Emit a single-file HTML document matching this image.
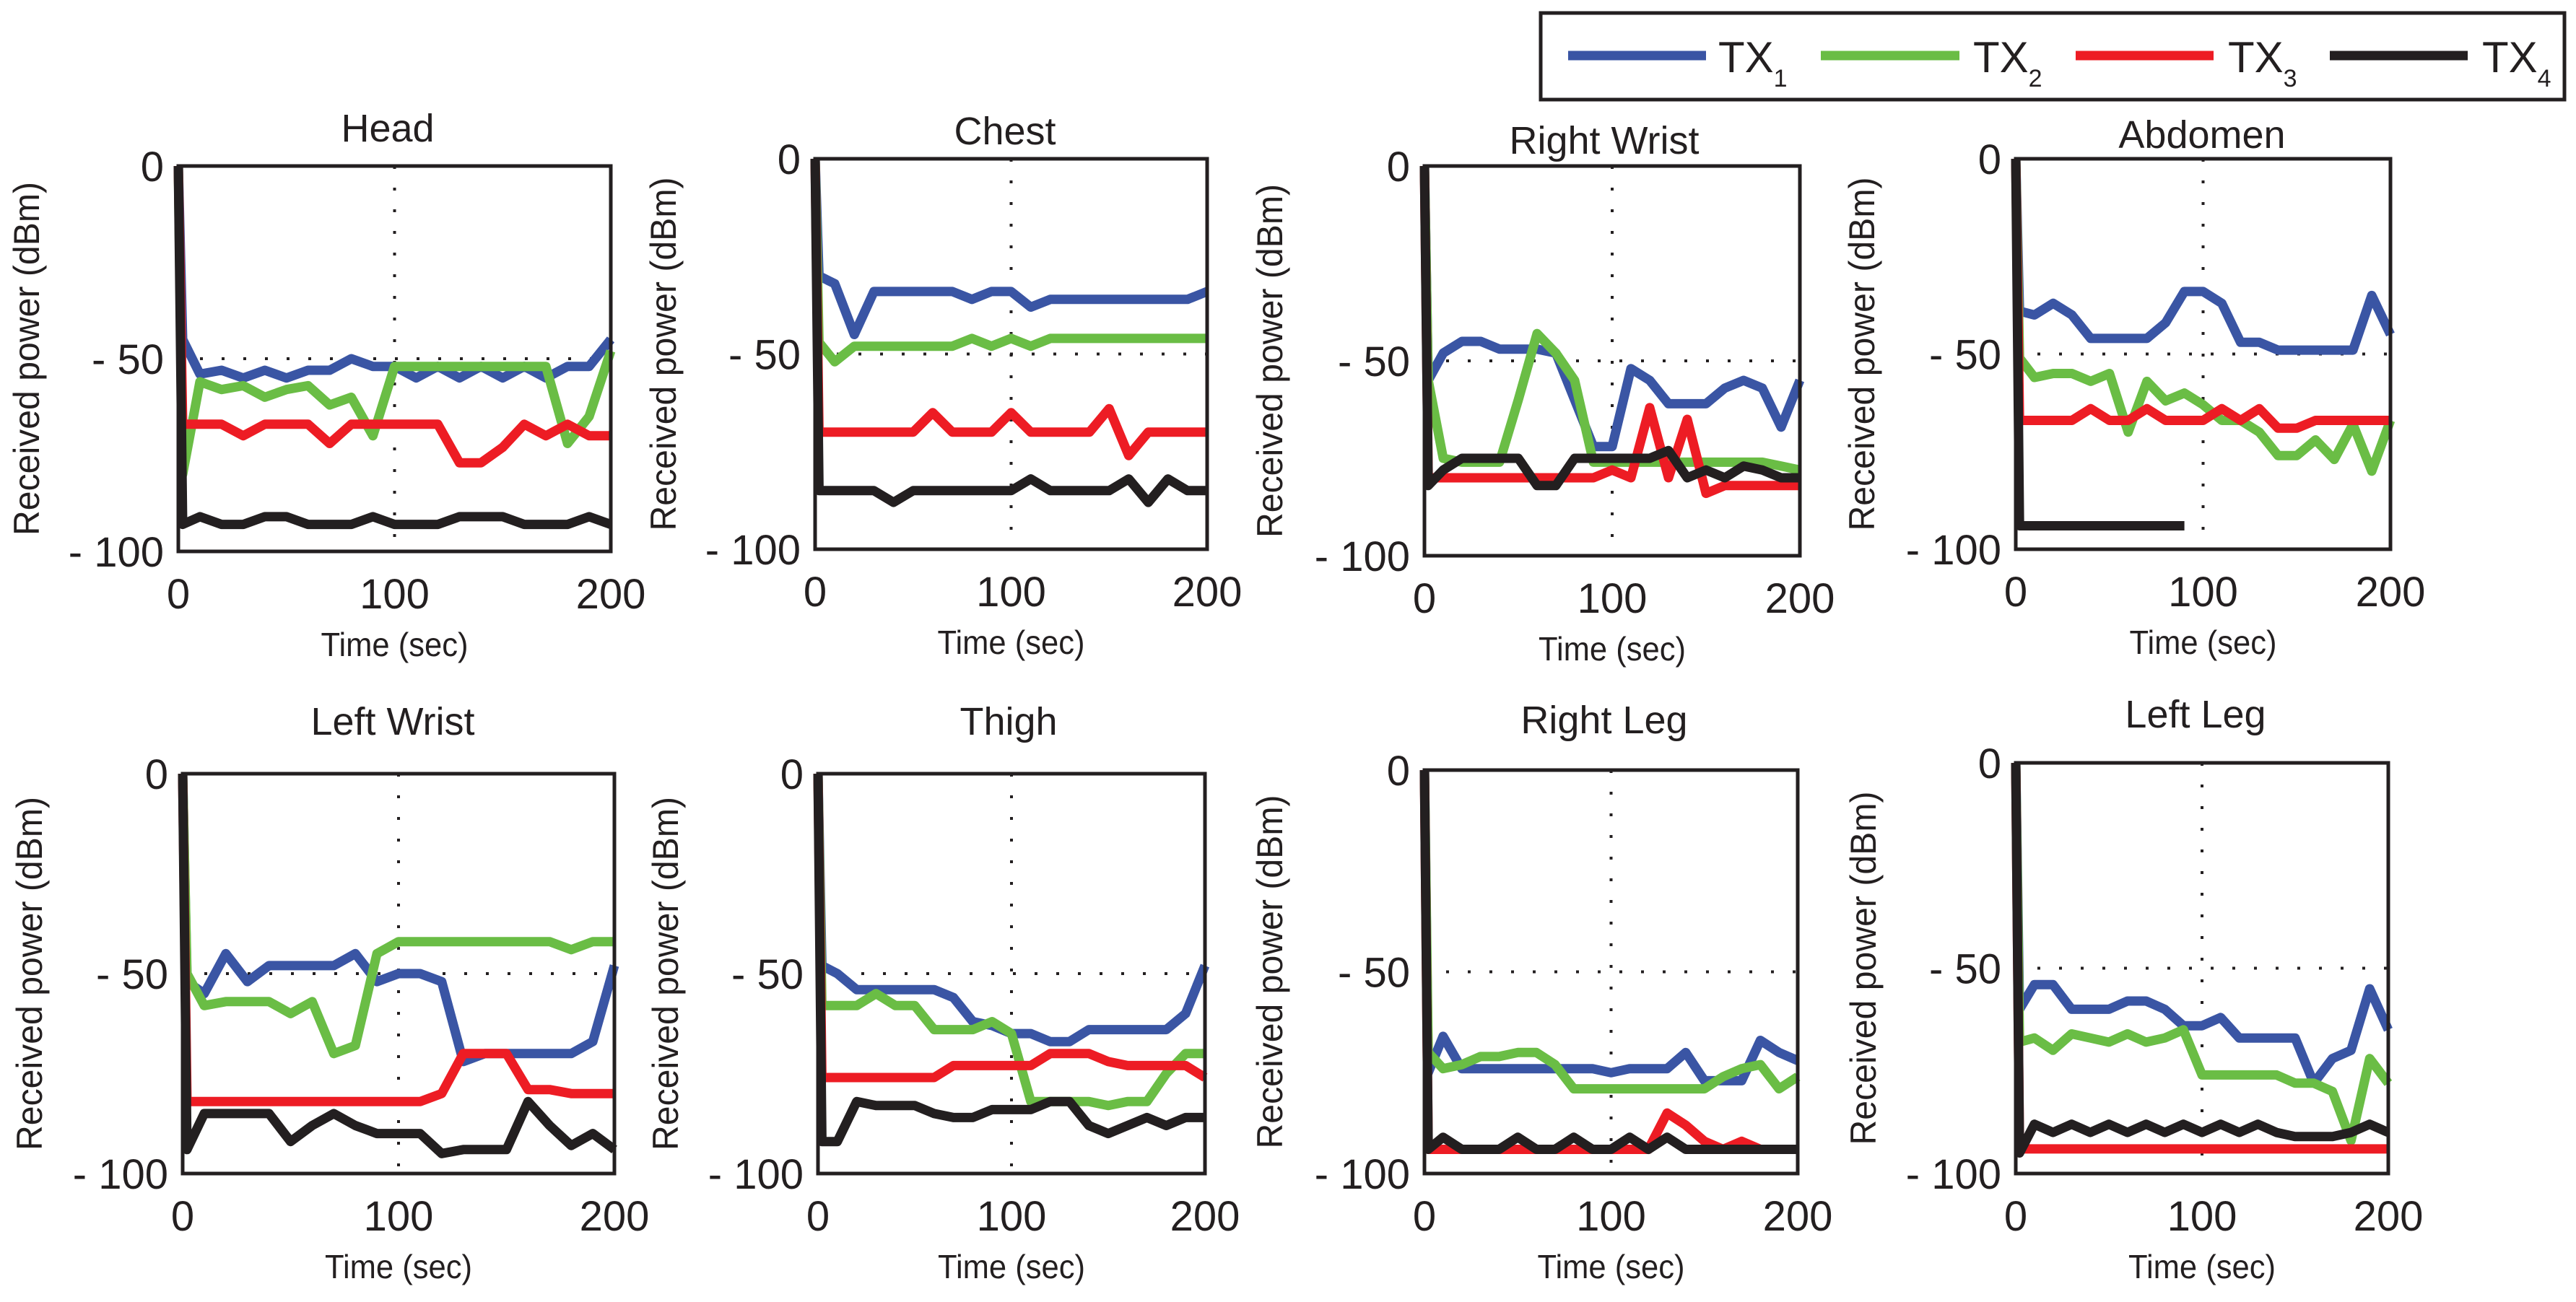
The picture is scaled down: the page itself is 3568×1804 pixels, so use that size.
<!DOCTYPE html>
<html><head><meta charset="utf-8"><style>
html,body{margin:0;padding:0;background:#fff;}
svg{display:block;font-family:"Liberation Sans",sans-serif;}
</style></head><body>
<svg id="fig" width="3568" height="1804" viewBox="0 0 3568 1804" xmlns="http://www.w3.org/2000/svg">
<g>
<rect x="2134" y="18" width="1418" height="120" fill="#fff" stroke="#231f20" stroke-width="5"/>
<line x1="2172" y1="77" x2="2363" y2="77" stroke="#3a55a4" stroke-width="13"/>
<text x="2380" y="100" font-size="60" fill="#231f20">TX<tspan font-size="34" dy="20">1</tspan></text>
<line x1="2522" y1="77" x2="2714" y2="77" stroke="#6abd45" stroke-width="13"/>
<text x="2733" y="100" font-size="60" fill="#231f20">TX<tspan font-size="34" dy="20">2</tspan></text>
<line x1="2875" y1="77" x2="3066" y2="77" stroke="#ed1c24" stroke-width="13"/>
<text x="3086" y="100" font-size="60" fill="#231f20">TX<tspan font-size="34" dy="20">3</tspan></text>
<line x1="3227" y1="77" x2="3418" y2="77" stroke="#231f20" stroke-width="13"/>
<text x="3438" y="100" font-size="60" fill="#231f20">TX<tspan font-size="34" dy="20">4</tspan></text>
</g>
</svg>
<script>
const time = [0,2,10,20,30,40,50,60,70,80,90,100,110,120,130,140,150,160,170,180,190,200];
const seriesNames = ["TX1","TX2","TX3","TX4"];
const xTicks = [0,100,200];
const yTicks = [0,-50,-100];
const yTickLabels = ["0","- 50","- 100"];

const headTX1 = [0,-45,-54,-53,-55,-53,-55,-53,-53,-50,-52,-52,-55,-52,-55,-52,-55,-52,-55,-52,-52,-45];
const headTX2 = [0,-80,-56,-58,-57,-60,-58,-57,-62,-60,-70,-52,-52,-52,-52,-52,-52,-52,-52,-72,-65,-48];
const headTX3 = [0,-67,-67,-67,-70,-67,-67,-67,-72,-67,-67,-67,-67,-67,-77,-77,-73,-67,-70,-67,-70,-70];
const headTX4 = [0,-93,-91,-93,-93,-91,-91,-93,-93,-93,-91,-93,-93,-93,-91,-91,-91,-93,-93,-93,-91,-93];

const chestTX1 = [0,-30,-32,-45,-34,-34,-34,-34,-34,-36,-34,-34,-38,-36,-36,-36,-36,-36,-36,-36,-36,-34];
const chestTX2 = [0,-47,-52,-48,-48,-48,-48,-48,-48,-46,-48,-46,-48,-46,-46,-46,-46,-46,-46,-46,-46,-46];
const chestTX3 = [0,-70,-70,-70,-70,-70,-70,-65,-70,-70,-70,-65,-70,-70,-70,-70,-64,-76,-70,-70,-70,-70];
const chestTX4 = [0,-85,-85,-85,-85,-88,-85,-85,-85,-85,-85,-85,-82,-85,-85,-85,-85,-82,-88,-82,-85,-85];

const rwristTX1 = [0,-55,-48,-45,-45,-47,-47,-47,-48,-60,-72,-72,-52,-55,-61,-61,-61,-57,-55,-57,-67,-55];
const rwristTX2 = [0,-55,-75,-76,-76,-76,-60,-43,-48,-55,-76,-76,-76,-76,-76,-76,-76,-76,-76,-76,-77,-78];
const rwristTX3 = [0,-80,-80,-80,-80,-80,-80,-80,-80,-80,-80,-78,-80,-62,-80,-65,-84,-82,-82,-82,-82,-82];
const rwristTX4 = [0,-82,-78,-75,-75,-75,-75,-82,-82,-75,-75,-75,-75,-75,-73,-80,-78,-80,-77,-78,-80,-80];

const abdomenTX1 = [0,-39,-40,-37,-40,-46,-46,-46,-46,-42,-34,-34,-37,-47,-47,-49,-49,-49,-49,-49,-35,-45];
const abdomenTX2 = [0,-51,-56,-55,-55,-57,-55,-70,-57,-62,-60,-63,-67,-67,-70,-76,-76,-72,-77,-68,-80,-67];
const abdomenTX3 = [0,-67,-67,-67,-67,-64,-67,-67,-64,-67,-67,-67,-64,-67,-64,-69,-69,-67,-67,-67,-67,-67];
const abdomenTX4 = [0,-94,-94,-94,-94,-94,-94,-94,-94,-94,-94,null,null,null,null,null,null,null,null,null,null,null];

const lwristTX1 = [0,-52,-55,-45,-52,-48,-48,-48,-48,-45,-52,-50,-50,-52,-72,-70,-70,-70,-70,-70,-67,-48];
const lwristTX2 = [0,-50,-58,-57,-57,-57,-60,-57,-70,-68,-45,-42,-42,-42,-42,-42,-42,-42,-42,-44,-42,-42];
const lwristTX3 = [0,-82,-82,-82,-82,-82,-82,-82,-82,-82,-82,-82,-82,-80,-70,-70,-70,-79,-79,-80,-80,-80];
const lwristTX4 = [0,-94,-85,-85,-85,-85,-92,-88,-85,-88,-90,-90,-90,-95,-94,-94,-94,-82,-88,-93,-90,-94];

const thighTX1 = [0,-48,-50,-54,-54,-54,-54,-54,-56,-62,-63,-65,-65,-67,-67,-64,-64,-64,-64,-64,-60,-48];
const thighTX2 = [0,-58,-58,-58,-55,-58,-58,-64,-64,-64,-62,-65,-82,-82,-82,-82,-83,-82,-82,-75,-70,-70];
const thighTX3 = [0,-76,-76,-76,-76,-76,-76,-76,-73,-73,-73,-73,-73,-70,-70,-70,-72,-73,-73,-73,-73,-76];
const thighTX4 = [0,-92,-92,-82,-83,-83,-83,-85,-86,-86,-84,-84,-84,-82,-82,-88,-90,-88,-86,-88,-86,-86];

const rlegTX1 = [0,-75,-66,-74,-74,-74,-74,-74,-74,-74,-74,-75,-74,-74,-74,-70,-77,-77,-77,-67,-70,-72];
const rlegTX2 = [0,-70,-74,-73,-71,-71,-70,-70,-73,-79,-79,-79,-79,-79,-79,-79,-79,-76,-74,-73,-79,-76];
const rlegTX3 = [0,-94,-94,-94,-94,-94,-94,-94,-94,-94,-94,-94,-94,-94,-85,-88,-92,-94,-92,-94,-94,-94];
const rlegTX4 = [0,-94,-91,-94,-94,-94,-91,-94,-94,-91,-94,-94,-91,-94,-91,-94,-94,-94,-94,-94,-94,-94];

const llegTX1 = [0,-60,-54,-54,-60,-60,-60,-58,-58,-60,-64,-64,-62,-67,-67,-67,-67,-78,-72,-70,-55,-65];
const llegTX2 = [0,-68,-67,-70,-66,-67,-68,-66,-68,-67,-65,-76,-76,-76,-76,-76,-78,-78,-80,-92,-72,-78];
const llegTX3 = [0,-94,-94,-94,-94,-94,-94,-94,-94,-94,-94,-94,-94,-94,-94,-94,-94,-94,-94,-94,-94,-94];
const llegTX4 = [0,-95,-88,-90,-88,-90,-88,-90,-88,-90,-88,-90,-88,-90,-88,-90,-91,-91,-91,-90,-88,-90];

const colors = ["#3a55a4","#6abd45","#ed1c24","#231f20"];
const panels = [
 {key:"head",title:"Head",x0:247,x1:846,y0:230,y1:764,lx:36,tx:537,ty:196,s:[headTX1,headTX2,headTX3,headTX4]},
 {key:"chest",title:"Chest",x0:1129,x1:1672,y0:220,y1:761,lx:918,tx:1392,ty:200,s:[chestTX1,chestTX2,chestTX3,chestTX4]},
 {key:"right-wrist",title:"Right Wrist",x0:1973,x1:2493,y0:230,y1:770,lx:1758,tx:2222,ty:213,s:[rwristTX1,rwristTX2,rwristTX3,rwristTX4]},
 {key:"abdomen",title:"Abdomen",x0:2792,x1:3311,y0:220,y1:761,lx:2578,tx:3050,ty:205,s:[abdomenTX1,abdomenTX2,abdomenTX3,abdomenTX4]},
 {key:"left-wrist",title:"Left Wrist",x0:253,x1:851,y0:1072,y1:1626,lx:40,tx:544,ty:1018,s:[lwristTX1,lwristTX2,lwristTX3,lwristTX4]},
 {key:"thigh",title:"Thigh",x0:1133,x1:1669,y0:1072,y1:1626,lx:921,tx:1397,ty:1018,s:[thighTX1,thighTX2,thighTX3,thighTX4]},
 {key:"right-leg",title:"Right Leg",x0:1973,x1:2490,y0:1067,y1:1626,lx:1758,tx:2222,ty:1016,s:[rlegTX1,rlegTX2,rlegTX3,rlegTX4]},
 {key:"left-leg",title:"Left Leg",x0:2792,x1:3308,y0:1057,y1:1626,lx:2580,tx:3041,ty:1008,s:[llegTX1,llegTX2,llegTX3,llegTX4]}
];
const NS="http://www.w3.org/2000/svg";
const svg=document.getElementById("fig");
function mk(tag,attrs,parent){const e=document.createElementNS(NS,tag);for(const k in attrs)e.setAttribute(k,attrs[k]);parent.appendChild(e);return e;}
panels.forEach(p=>{
 const xs=t=>p.x0+(t-0)/(200-0)*(p.x1-p.x0);
 const ys=v=>p.y0+(0-v)/(100)*(p.y1-p.y0);
 const g=mk("g",{},svg);
 
 
 const t=mk("text",{x:p.tx,y:p.ty,"font-size":54,"text-anchor":"middle",fill:"#231f20"},g);
 t.textContent=p.title;
 
 
 // gridlines
 const gx=mk("line",{x1:xs(100),x2:xs(100),y1:p.y0,y2:p.y1,stroke:"#231f20","stroke-width":4,"stroke-dasharray":"4 26"},g);
 
 
 const gy=mk("line",{x1:p.x0,x2:p.x1,y1:ys(-50),y2:ys(-50),stroke:"#231f20","stroke-width":4,"stroke-dasharray":"4 26"},g);
 
 
 // series
 p.s.forEach((arr,si)=>{
  let d="";let pen=false;
  arr.forEach((v,i)=>{ if(v===null){pen=false;return;} d+=(pen?"L":"M")+xs(time[i]).toFixed(1)+" "+ys(v).toFixed(1)+" "; pen=true;});
  const pl=mk("path",{d:d,fill:"none",stroke:colors[si],"stroke-width":13,"stroke-linejoin":"round","stroke-linecap":"butt"},g);
  
  
 });
 const fr=mk("rect",{x:p.x0,y:p.y0,width:p.x1-p.x0,height:p.y1-p.y0,fill:"none",stroke:"#231f20","stroke-width":5},g);
 
 
 yTicks.forEach((v,i)=>{
  const tl=mk("text",{x:p.x0-20,y:ys(v)+21,"font-size":58,"text-anchor":"end",fill:"#231f20"},g);
  tl.textContent=yTickLabels[i];
  
  
 });
 xTicks.forEach(v=>{
  const tl=mk("text",{x:xs(v),y:p.y1+79,"font-size":58,"text-anchor":"middle",fill:"#231f20"},g);
  tl.textContent=String(v);
  
  
 });
 const xt=mk("text",{x:(p.x0+p.x1)/2,y:p.y1+145,"font-size":46,"text-anchor":"middle",fill:"#231f20",textLength:204,lengthAdjust:"spacingAndGlyphs"},g);
 xt.textContent="Time (sec)";
 
 
 const cy=(p.y0+p.y1)/2;
 const yt=mk("text",{x:0,y:0,"font-size":50,"text-anchor":"middle",fill:"#231f20",textLength:490,lengthAdjust:"spacingAndGlyphs",transform:"translate("+(p.lx+18)+","+cy+") rotate(-90)"},g);
 yt.textContent="Received power (dBm)";
 
 
});
</script>
</body></html>
